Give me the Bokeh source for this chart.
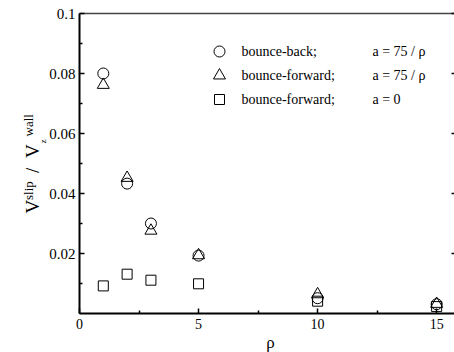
import math
from bokeh.plotting import figure
from bokeh.models import Range1d, FixedTicker, LinearAxis, Label, CustomJSTickFormatter
from bokeh.embed import file_html
from bokeh.resources import INLINE

# ---- data ----
rho = [1, 2, 3, 5, 10, 15]
bounce_back_75 = [0.0800, 0.0433, 0.0300, 0.0193, 0.0051, 0.0031]
bounce_fwd_75 = [0.0762, 0.0452, 0.0276, 0.0194, 0.0064, 0.0032]
bounce_fwd_0 = [0.0092, 0.0131, 0.0111, 0.0099, 0.0041, 0.0023]

x_ticks = [0, 5, 10, 15]
x_minor = [2.5, 7.5, 12.5]
y_ticks = [0.02, 0.04, 0.06, 0.08, 0.1]
y_minor = [0.01, 0.03, 0.05, 0.07, 0.09]
y_tick_labels = ["0.02", "0.04", "0.06", "0.08", "0.1"]

legend_names = ["bounce-back;", "bounce-forward;", "bounce-forward;"]
legend_params = ["a = 75 / ρ", "a = 75 / ρ", "a = 0"]
legend_markers = ["circle", "triangle", "square"]
x_label = "ρ"

FONT = "Liberation Serif"
W, H = 454, 352
# pixel geometry of the axes box inside the canvas
PL, PR, PT, PB = 79, 454, 13, 313
XMIN, XMAX = 0, 15.75      # x data at PL / PR
YMIN, YMAX = 0, 0.1        # y data at PB / PT
KX = (XMAX - XMIN) / (PR - PL)
KY = (YMAX - YMIN) / (PB - PT)

# the frame covers the whole canvas so that texts outside the axes box are not clipped
p = figure(width=W, height=H, output_backend="svg", toolbar_location=None,
           x_range=Range1d(XMIN - PL * KX, XMAX + (W - PR) * KX),
           y_range=Range1d(YMIN - (H - PB) * KY, YMAX + PT * KY),
           min_border_left=0, min_border_right=0, min_border_top=0,
           min_border_bottom=0, background_fill_color="white",
           border_fill_color="white")
p.title.visible = False
p.outline_line_color = None
p.grid.visible = False

xa = p.xaxis[0]
xa.fixed_location = YMIN
xa.bounds = (XMIN, XMAX)
xa.ticker = FixedTicker(ticks=x_ticks, minor_ticks=x_minor)
xa.axis_line_width = 2
xa.axis_line_color = "black"
xa.major_tick_in = 5
xa.major_tick_out = 0
xa.minor_tick_in = 3
xa.minor_tick_out = 0
xa.major_tick_line_color = "black"
xa.minor_tick_line_color = "black"
xa.major_tick_line_width = 1.5
xa.minor_tick_line_width = 1.5
xa.major_label_text_font = FONT
xa.major_label_text_font_size = "14px"
xa.major_label_text_color = "black"
xa.major_label_standoff = 5

ya = p.yaxis[0]
ya.fixed_location = XMIN
ya.bounds = (YMIN, YMAX)
ya.ticker = FixedTicker(ticks=y_ticks, minor_ticks=y_minor)
ya.major_label_overrides = {t: s for t, s in zip(y_ticks, y_tick_labels)}
ya.axis_line_width = 2
ya.axis_line_color = "black"
ya.major_tick_in = 5
ya.major_tick_out = 0
ya.minor_tick_in = 3
ya.minor_tick_out = 0
ya.major_tick_line_color = "black"
ya.minor_tick_line_color = "black"
ya.major_tick_line_width = 1.5
ya.minor_tick_line_width = 1.5
ya.major_label_text_font = FONT
ya.major_label_text_font_size = "15px"
ya.major_label_text_color = "black"
ya.major_label_standoff = 4

empty = CustomJSTickFormatter(code="return ''")
top = LinearAxis(ticker=FixedTicker(ticks=[]), bounds=(XMIN, XMAX + (W - PR) * KX),
                 fixed_location=YMAX,
                 axis_line_color="#444444", axis_line_width=1.5,
                 major_tick_in=0, major_tick_out=0, minor_tick_in=0, minor_tick_out=0,
                 formatter=empty, major_label_standoff=0)
p.add_layout(top, "above")

right = LinearAxis(ticker=FixedTicker(ticks=y_ticks, minor_ticks=[]),
                   bounds=(YMIN, YMAX), axis_line_color=None, fixed_location=XMAX,
                   major_tick_in=3, major_tick_out=0, minor_tick_in=0, minor_tick_out=0,
                   major_tick_line_color="black", major_tick_line_width=1.5,
                   formatter=empty, major_label_standoff=0)
p.add_layout(right, "right")

style = dict(fill_color=None, line_color="black", line_width=1)
p.scatter(rho, bounce_back_75, marker="circle", size=11, **style)
p.scatter(rho, bounce_fwd_75, marker="triangle", size=12, **style)
p.scatter(rho, bounce_fwd_0, marker="square", size=10, **style)

# ---- legend (pixel positions converted to data space) ----
def dx(px):
    return XMIN + (px - PL) * KX

def dy(py):
    return YMIN + (PB - py) * KY

def lab(text, cx, cy, size, angle=0.0, baseline="alphabetic", align="left"):
    # frame spans the whole canvas: screen units measured from its bottom-left corner
    p.add_layout(Label(x=cx, y=H - cy, x_units="screen", y_units="screen",
                       text=text, text_font=FONT, text_font_size=size, angle=angle,
                       text_baseline=baseline, text_align=align, text_color="black"))

rows_py = [51, 75, 99]
sizes = {"circle": 11, "triangle": 12, "square": 10}
for m, name, par, py in zip(legend_markers, legend_names, legend_params, rows_py):
    p.scatter([dx(219)], [dy(py)], marker=m, size=sizes[m], **style)
    lab(name, 241, py, "14px", baseline="middle")
    lab(par, 372, py, "14px", baseline="middle")

# ---- axis titles ----
lab(x_label, 270, 342, "17px", baseline="middle", align="center")

A = math.pi / 2
lab("V", 32, 213, "19px", A)
lab("slip", 28, 199.5, "13px", A)
lab("/", 32, 172.5, "19px", A)
lab("V", 32, 157.5, "19px", A)
lab("z", 42, 143, "9px", A)
lab("wall", 28, 136, "13px", A)

open("out.html", "w").write(file_html(p, INLINE))
